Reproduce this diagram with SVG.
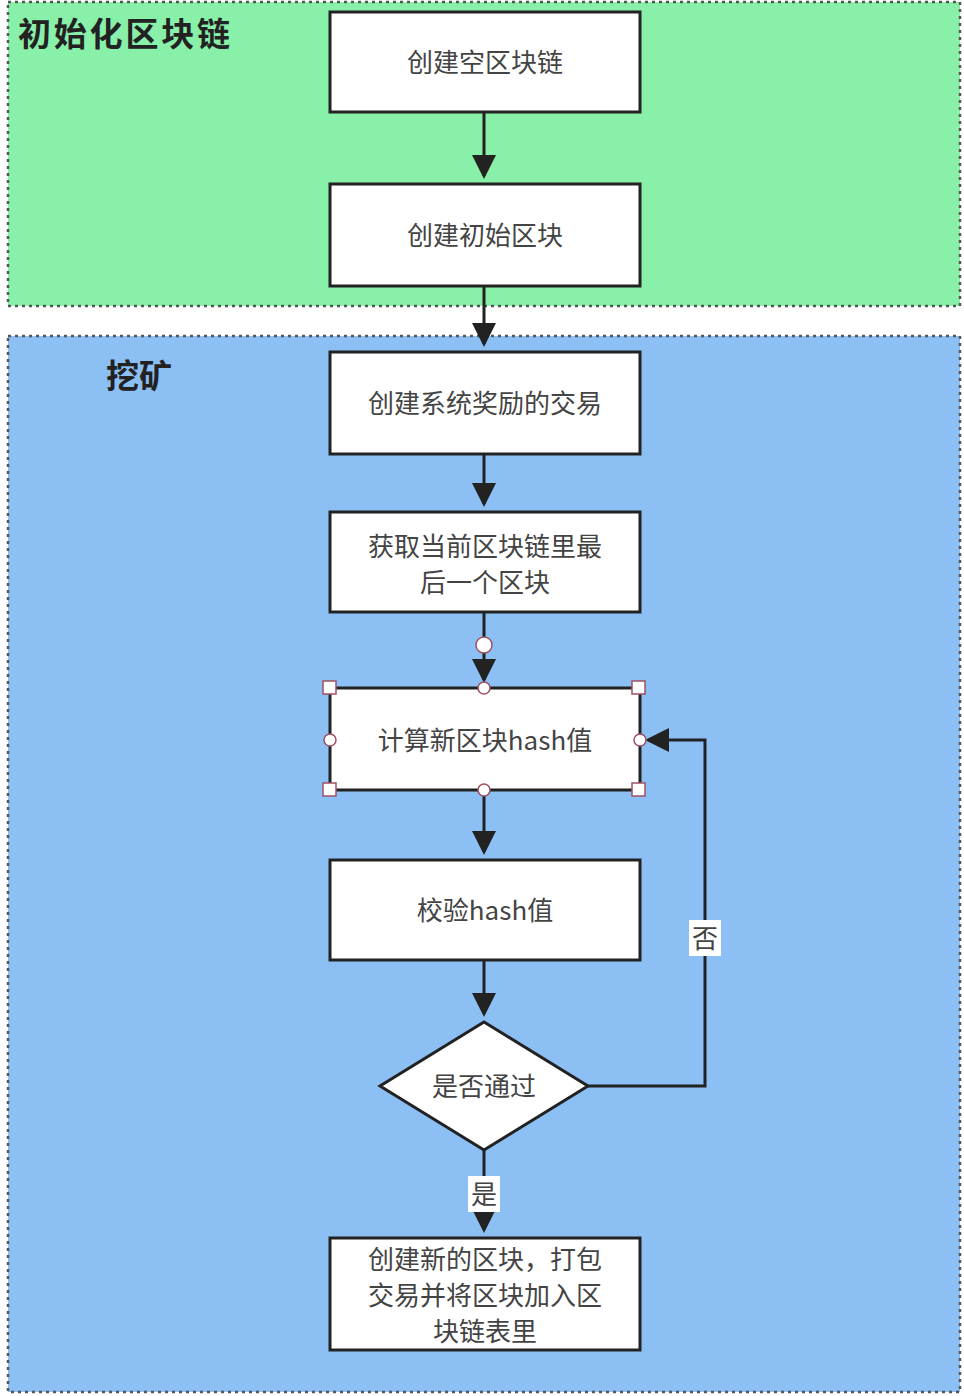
<svg xmlns="http://www.w3.org/2000/svg" width="964" height="1396" viewBox="0 0 964 1396">
<style>
.box{fill:#fff;stroke:#222;stroke-width:3}
.t{font-family:"Noto Sans CJK SC",sans-serif;font-size:26px;fill:#444;text-anchor:middle}
.h{font-family:"Noto Sans CJK SC",sans-serif;font-size:33px;font-weight:bold;fill:#222}
.c{fill:none;stroke:#222;stroke-width:3;marker-end:url(#a)}
.hd{fill:#fff;stroke:#a05060;stroke-width:1.5}
</style>
<defs><marker id="a" markerWidth="8" markerHeight="8" refX="7" refY="4" orient="auto" markerUnits="strokeWidth"><path d="M0,0L8,4L0,8z" fill="#222"/></marker></defs>
<rect x="8" y="2" width="952" height="304" fill="#88f0a8" stroke="#555" stroke-width="2.5" stroke-dasharray="3,4"/>
<rect x="8" y="336" width="952" height="1056" fill="#8cc0f5" stroke="#555" stroke-width="2.5" stroke-dasharray="3,4"/>
<text class="h" x="18" y="46" textLength="212">初始化区块链</text>
<text class="h" x="106" y="388">挖矿</text>
<g id="connectors">
<path class="c" d="M484,112V176"/>
<path class="c" d="M484,286V344"/>
<path class="c" d="M484,454V504"/>
<path class="c" d="M484,612V680"/>
<path class="c" d="M484,790V852"/>
<path class="c" d="M484,960V1014"/>
<path class="c" d="M484,1150V1230"/>
<path class="c" d="M588,1086H705V740H648"/>
<rect x="689" y="920" width="32" height="36" fill="#fff"/>
<text class="t" x="705" y="948">否</text>
<rect x="468" y="1176" width="32" height="36" fill="#fff"/>
<text class="t" x="484" y="1204">是</text>
</g>
<g id="n1"><rect class="box" x="330" y="12" width="310" height="100"/><text class="t" x="485" y="72">创建空区块链</text></g>
<g id="n2"><rect class="box" x="330" y="184" width="310" height="102"/><text class="t" x="485" y="245">创建初始区块</text></g>
<g id="n3"><rect class="box" x="330" y="352" width="310" height="102"/><text class="t" x="485" y="413">创建系统奖励的交易</text></g>
<g id="n4"><rect class="box" x="330" y="512" width="310" height="100"/><text class="t" x="485" y="556">获取当前区块链里最</text><text class="t" x="485" y="592">后一个区块</text></g>
<g id="n5"><rect class="box" x="330" y="688" width="310" height="102"/><text class="t" x="485" y="750">计算新区块hash值</text>
<circle class="hd" cx="484" cy="645" r="8"/>
<rect class="hd" x="323" y="681" width="13" height="13"/><rect class="hd" x="632" y="681" width="13" height="13"/><rect class="hd" x="323" y="783" width="13" height="13"/><rect class="hd" x="632" y="783" width="13" height="13"/>
<circle class="hd" cx="484" cy="688" r="6"/><circle class="hd" cx="484" cy="790" r="6"/><circle class="hd" cx="330" cy="740" r="6"/><circle class="hd" cx="640" cy="740" r="6"/></g>
<g id="n6"><rect class="box" x="330" y="860" width="310" height="100"/><text class="t" x="485" y="920">校验hash值</text></g>
<g id="n7"><path class="box" d="M484,1022L588,1086L484,1150L380,1086Z"/><text class="t" x="484" y="1096">是否通过</text></g>
<g id="n8"><rect class="box" x="330" y="1238" width="310" height="112"/><text class="t" x="485" y="1269">创建新的区块，打包</text><text class="t" x="485" y="1305">交易并将区块加入区</text><text class="t" x="485" y="1341">块链表里</text></g>
</svg>
